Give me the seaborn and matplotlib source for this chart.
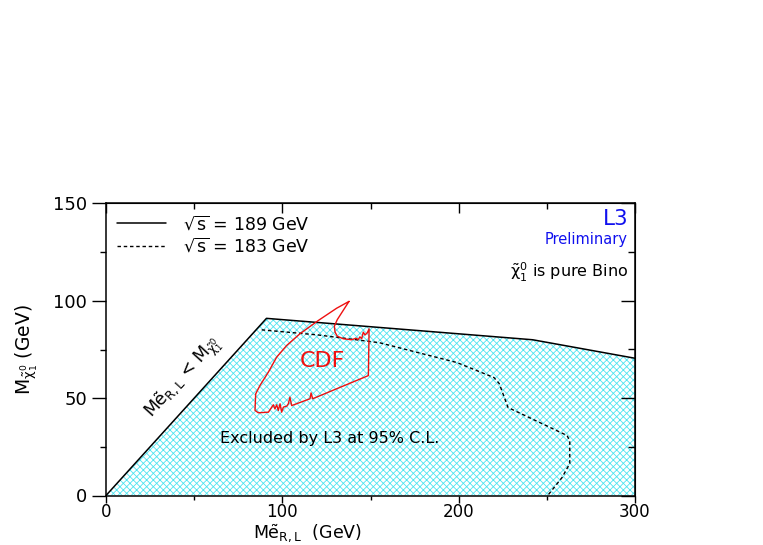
import matplotlib
matplotlib.use("Agg")
import matplotlib.pyplot as plt
import seaborn as sns
import numpy as np
import pandas as pd

# excluded region boundary, sqrt(s) = 189 GeV (solid)
m_sel_189 = [0, 91, 242, 300]
m_chi_189 = [0, 91, 80, 70.5]

# sqrt(s) = 183 GeV limit (dashed)
m_sel_183 = [88.3, 120, 155, 199, 220, 223, 228, 261.5, 263, 263, 258.6, 250.5]
m_chi_183 = [85.1, 82.5, 78.5, 68.3, 60.6, 57.5, 45.2, 30.8, 28, 16.4, 9.2, 0]

# CDF contour (red)
cdf_x = [137.8, 130.8, 120.4, 110.0, 102.5, 96.8, 92.1, 87.3, 84.9, 84.5, 86.4, 92.1,
         94.0, 94.9, 95.8, 96.8, 97.7, 98.7, 99.6, 100.6, 102.5, 103.4, 104.3, 105.3,
         115.7, 116.3, 117.2, 148.8, 149.2, 148.2, 146.9, 145.9, 145.0, 144.0, 143.1,
         141.8, 139.3, 134.6, 131.2, 129.9, 129.5, 131.2, 137.8]
cdf_y = [99.7, 96.2, 89.9, 83.1, 77.1, 71.1, 63.4, 56.5, 52.2, 43.7, 42.5, 42.8,
         45.4, 46.6, 44.5, 46.6, 43.7, 47.1, 42.8, 45.4, 45.9, 47.1, 50.5, 46.2,
         49.7, 52.7, 49.7, 61.6, 85.6, 83.6, 82.5, 83.9, 80.5, 81.5, 80.1,
         80.8, 80.0, 80.5, 81.8, 83.9, 87.0, 90.4, 99.7]

x_major = [0, 100, 200, 300]
x_minor = [50, 150, 250]
y_major = [0, 50, 100, 150]
y_minor = [25, 75, 125]

sns.set_style("ticks")
plt.rcParams["font.family"] = ["DejaVu Sans"]
plt.rcParams["mathtext.fontset"] = "dejavusans"
plt.rcParams["mathtext.default"] = "regular"
plt.rcParams["hatch.linewidth"] = 0.6
for k in ["text.color", "axes.labelcolor", "xtick.color", "ytick.color", "axes.edgecolor"]:
    plt.rcParams[k] = "black"

fig = plt.figure(figsize=(7.63, 5.45), dpi=100)
ax = fig.add_axes([106 / 763, 49.5 / 545, 529 / 763, 292 / 545])

# hatched excluded area
ax.fill_between(m_sel_189, 0, m_chi_189, facecolor="none", edgecolor="#4fe4f0",
                hatch="xxxxx", linewidth=0, zorder=0.5)

sns.lineplot(x=m_sel_189, y=m_chi_189, sort=False, estimator=None, color="black",
             lw=1.1, label=r"$\sqrt{s}$ = 189 GeV", ax=ax)
sns.lineplot(x=m_sel_183, y=m_chi_183, sort=False, estimator=None, color="black",
             lw=1.0, linestyle=(0, (2.5, 2)), label=r"$\sqrt{s}$ = 183 GeV", ax=ax)
sns.lineplot(x=cdf_x, y=cdf_y, sort=False, estimator=None, color="#ee1111",
             lw=1.0, legend=False, ax=ax)

ax.set_xlim(0, 300)
ax.set_ylim(0, 150)
ax.set_xticks(x_major)
ax.set_xticks(x_minor, minor=True)
ax.set_yticks(y_major)
ax.set_yticks(y_minor, minor=True)
ax.tick_params(axis="y", which="major", direction="out", length=10, width=1, pad=3.5, labelsize=13)
ax.tick_params(axis="y", which="minor", direction="out", length=4.5, width=1)
ax.tick_params(axis="x", which="major", direction="out", length=5, width=1, pad=0.5, labelsize=12)
ax.tick_params(axis="x", which="minor", direction="out", length=3, width=1)
for s in ax.spines.values():
    s.set_visible(True)
    s.set_linewidth(1.1)

# mirrored ticks pointing inward on top and right
top = ax.secondary_xaxis("top")
top.set_xticks(x_major)
top.set_xticks(x_minor, minor=True)
top.tick_params(which="major", direction="in", length=7, width=1, labeltop=False)
top.tick_params(which="minor", direction="in", length=4.5, width=1)
top.set_zorder(5)
right = ax.secondary_yaxis("right")
right.set_yticks(y_major)
right.set_yticks(y_minor, minor=True)
right.tick_params(which="major", direction="in", length=10, width=1, labelright=False)
right.tick_params(which="minor", direction="in", length=5, width=1)
right.set_zorder(5)

ax.set_xlabel(r"M$\tilde{e}_{R,L}$  (GeV)", fontsize=12.5)
ax.xaxis.set_label_coords(0.38, -0.09)
ax.set_ylabel(r"M$_{\tilde{\chi}_1^0}$ (GeV)", fontsize=13.5)
ax.yaxis.set_label_coords(-0.125, 0.5)

ax.legend(loc="upper left", bbox_to_anchor=(0.0, 1.0), frameon=False, fontsize=12.5,
          handlelength=2.8, handletextpad=1.0, labelspacing=0.2, borderaxespad=0.25)

ax.text(0.987, 0.926, "L3", transform=ax.transAxes, color="#1010ee", fontsize=15.5,
        ha="right", va="baseline")
ax.text(0.987, 0.862, "Preliminary", transform=ax.transAxes, color="#1010ee",
        fontsize=10.5, ha="right", va="baseline")
ax.text(0.987, 0.745, r"$\tilde{\chi}_1^0$ is pure Bino", transform=ax.transAxes,
        fontsize=11.5, ha="right", va="baseline")
ax.text(123, 69.3, "CDF", color="#ee1111", fontsize=16, ha="center", va="center")
ax.text(127, 29.3, "Excluded by L3 at 95% C.L.", fontsize=11.5, ha="center", va="center")
ax.text(43.5, 60.5, r"M$\tilde{e}_{R,L}$ < M$_{\tilde{\chi}_1^0}$", fontsize=12.5,
        rotation=47.8, ha="center", va="center", rotation_mode="anchor")

fig.savefig("out.png", dpi=100)
